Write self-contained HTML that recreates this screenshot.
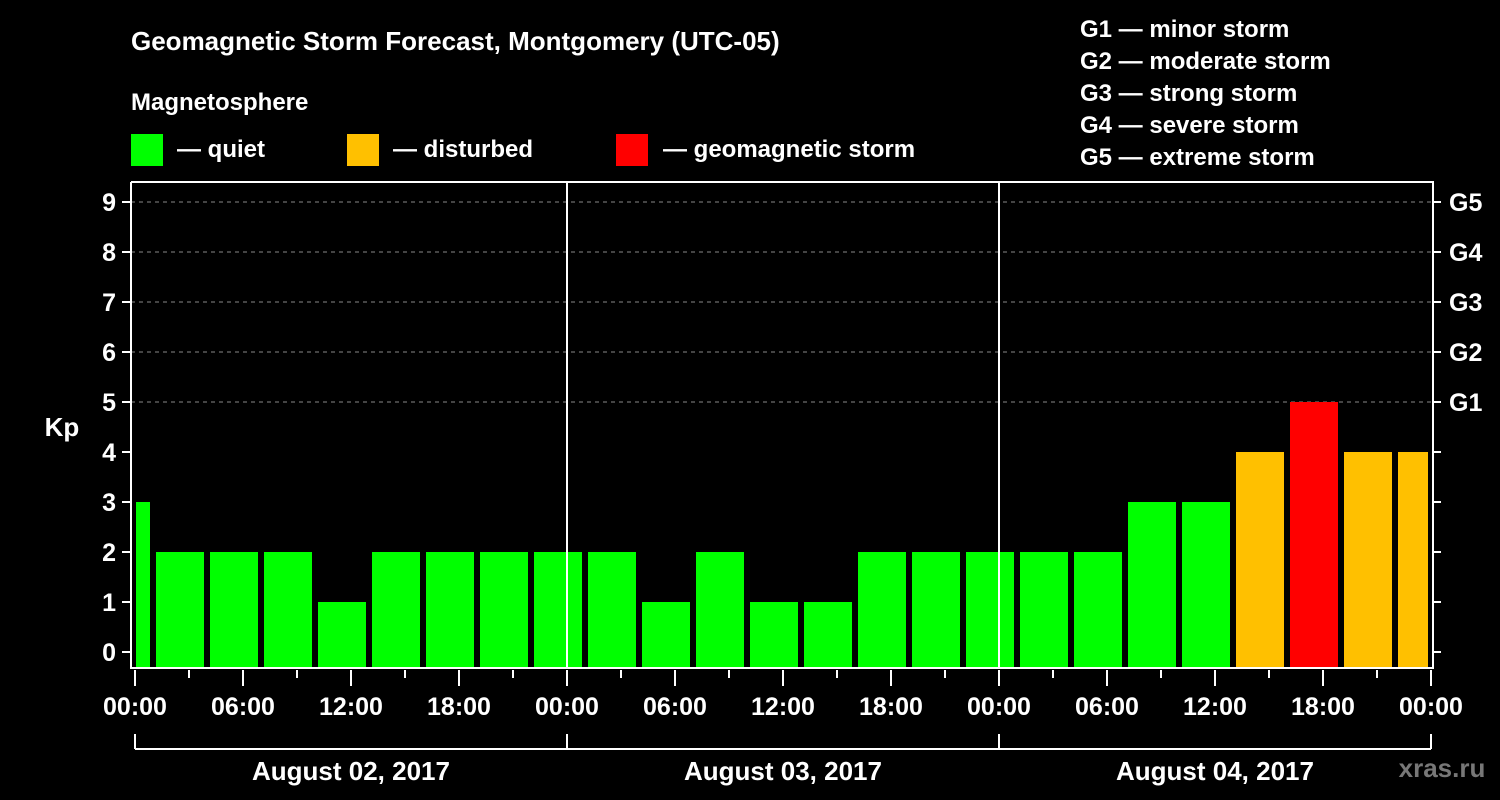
<!DOCTYPE html>
<html><head><meta charset="utf-8"><style>
body{margin:0;background:#000;}
svg{display:block;font-family:"Liberation Sans",Arial,sans-serif;font-weight:bold;}
</style></head><body>
<svg id="chart" width="1500" height="800" viewBox="0 0 1500 800">
<rect width="1500" height="800" fill="#000"/>
<text x="131" y="50" fill="#fff" font-size="26">Geomagnetic Storm Forecast, Montgomery (UTC-05)</text>
<text x="131" y="110" fill="#fff" font-size="24">Magnetosphere</text>
<g><rect x="131" y="134" width="32" height="32" fill="#00ff00"/><text x="177" y="157" fill="#fff" font-size="24">— quiet</text></g>
<g><rect x="347" y="134" width="32" height="32" fill="#ffc000"/><text x="393" y="157" fill="#fff" font-size="24">— disturbed</text></g>
<g><rect x="616" y="134" width="32" height="32" fill="#ff0000"/><text x="663" y="157" fill="#fff" font-size="24">— geomagnetic storm</text></g>
<g fill="#fff" font-size="24">
<text x="1080" y="37">G1 — minor storm</text>
<text x="1080" y="69">G2 — moderate storm</text>
<text x="1080" y="101">G3 — strong storm</text>
<text x="1080" y="133">G4 — severe storm</text>
<text x="1080" y="165">G5 — extreme storm</text>
</g>
<text x="62" y="436" fill="#fff" font-size="26" text-anchor="middle">Kp</text>
<g id="grid"></g><g id="bars"></g><g id="axes"></g>
<text x="1442" y="777" fill="#777" font-size="26" text-anchor="middle">xras.ru</text>
</svg>
<script>
const kpValues=[3,2,2,2,1,2,2,2,2,2,1,2,1,1,2,2,2,2,2,3,3,4,5,4,4];
const barStartHours=[-2,1,4,7,10,13,16,19,22,25,28,31,34,37,40,43,46,49,52,55,58,61,64,67,70];
const yTicks=[0,1,2,3,4,5,6,7,8,9];
const gLabels=["G1","G2","G3","G4","G5"];
const xTickLabels=["00:00","06:00","12:00","18:00","00:00","06:00","12:00","18:00","00:00","06:00","12:00","18:00","00:00"];
const dayLabels=["August 02, 2017","August 03, 2017","August 04, 2017"];
const NS="http://www.w3.org/2000/svg";
const X0=135,PX_H=18,XMAX=1433,LEFT=131,TOP=182,BOTTOM=668;
const xs=h=>X0+h*PX_H;
const ys=v=>652-50*v;
function mk(t,a,p){const e=document.createElementNS(NS,t);for(const k in a)e.setAttribute(k,a[k]);p.appendChild(e);return e;}
const grid=document.getElementById('grid'),bars=document.getElementById('bars'),axes=document.getElementById('axes');
yTicks.forEach(v=>{
 if(v>=5){const l=mk('line',{x1:LEFT,x2:XMAX,y1:ys(v),y2:ys(v),stroke:'#888','stroke-dasharray':'4,4','stroke-width':1},grid);
 
 }
 const t=mk('line',{x1:122,x2:LEFT,y1:ys(v),y2:ys(v),stroke:'#fff','stroke-width':2},axes);
 
 
 const r=mk('line',{x1:XMAX,x2:1441,y1:ys(v),y2:ys(v),stroke:'#fff','stroke-width':2},axes);
 
 
 const tx=mk('text',{x:116,y:ys(v)+9,fill:'#fff','font-size':25,'text-anchor':'end'},axes);tx.textContent=v;
 
 
});
gLabels.forEach((g,i)=>{const tx=mk('text',{x:1449,y:ys(5+i)+9,fill:'#fff','font-size':25},axes);tx.textContent=g;
 
 });
kpValues.forEach((v,i)=>{
 const h=barStartHours[i];
 let x1=xs(h)+3,x2=xs(h+3)-3;
 x1=Math.max(x1,LEFT+5);x2=Math.min(x2,XMAX-5);
 const col=v>=5?'#ff0000':(v>=4?'#ffc000':'#00ff00');
 const r=mk('rect',{x:x1,y:ys(v),width:x2-x1,height:BOTTOM-1-ys(v),fill:col},bars);
 
 
});
mk('polyline',{points:`${LEFT},${TOP} ${LEFT},${BOTTOM} ${XMAX},${BOTTOM} ${XMAX},${TOP} ${LEFT},${TOP}`,fill:'none',stroke:'#fff','stroke-width':2},axes);
[24,48].forEach(h=>{const l=mk('line',{x1:xs(h),x2:xs(h),y1:TOP,y2:BOTTOM,stroke:'#fff','stroke-width':2},axes);
 
 });
for(let h=0;h<=72;h+=3){const big=h%6===0;
 const l=mk('line',{x1:xs(h),x2:xs(h),y1:670,y2:big?686:678,stroke:'#fff','stroke-width':2},axes);
 
 }
xTickLabels.forEach((s,i)=>{const tx=mk('text',{x:xs(i*6),y:715,fill:'#fff','font-size':25,'text-anchor':'middle'},axes);tx.textContent=s;
 
 });
mk('line',{x1:xs(0),x2:xs(72),y1:749,y2:749,stroke:'#fff','stroke-width':2},axes);
[0,24,48,72].forEach(h=>{mk('line',{x1:xs(h),x2:xs(h),y1:734,y2:749,stroke:'#fff','stroke-width':2},axes);});
dayLabels.forEach((s,i)=>{const tx=mk('text',{x:xs(i*24+12),y:780,fill:'#fff','font-size':26,'text-anchor':'middle'},axes);tx.textContent=s;
 
 });
</script>
</body></html>
